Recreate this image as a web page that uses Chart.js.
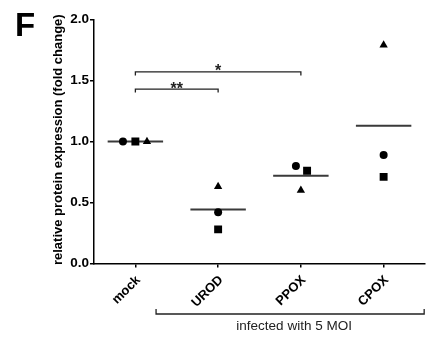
<!DOCTYPE html>
<html>
<head>
<meta charset="utf-8">
<script src="https://cdn.jsdelivr.net/npm/chart.js@4"></script>
<style>
html,body{margin:0;padding:0;background:#fff;}
#wrap{position:relative;width:431px;height:337px;}
</style>
</head>
<body>
<div id="wrap"><canvas id="c" width="431" height="337"></canvas></div>
<script>
// ---- data ----
const categories = ['mock', 'UROD', 'PPOX', 'CPOX'];
const circleVals = [1.00, 0.42, 0.80, 0.89];
const squareVals = [1.00, 0.28, 0.76, 0.71];
const triangleVals = [1.00, 0.63, 0.60, 1.79];
// horizontal jitter of replicate markers (category units)
const circleJitter = [-0.15, 0, -0.06, 0];
const squareJitter = [0, 0, 0.075, 0];
const triangleJitter = [0.14, 0, 0, 0];
const yTicks = [0, 0.5, 1.0, 1.5, 2.0];
const sigBrackets = [
  {from: 0, to: 1, level: 1.43, label: '**'},
  {from: 0, to: 2, level: 1.57, label: '*'}
];
const groupBracket = {from: 0.25, to: 3.49, label: 'infected with 5 MOI'};
const yTitle = ' relative protein expression (fold change)';
const panelLetter = 'F';

const FONT = "'Liberation Sans', Arial, Helvetica, sans-serif";
const meanHalfWidth = 0.335;

function pts(vals, jit) {
  return vals.map((v, i) => ({x: i + jit[i], y: v}));
}
const means = categories.map((c, i) => (circleVals[i] + squareVals[i] + triangleVals[i]) / 3);
const meanData = [];
means.forEach((m, i) => {
  meanData.push({x: i - meanHalfWidth, y: m});
  meanData.push({x: i + meanHalfWidth, y: m});
  meanData.push({x: i + 0.5, y: null});
});

const extras = {
  id: 'extras',
  afterDraw(chart) {
    const ctx = chart.ctx, xs = chart.scales.x, ys = chart.scales.y, ca = chart.chartArea;
    ctx.save();
    ctx.strokeStyle = '#222';
    ctx.fillStyle = '#222';
    ctx.lineWidth = 1.3;
    ctx.textAlign = 'center';
    ctx.textBaseline = 'alphabetic';
    ctx.font = 'bold 16px ' + FONT;
    sigBrackets.forEach(b => {
      const x1 = xs.getPixelForValue(b.from), x2 = xs.getPixelForValue(b.to), y = ys.getPixelForValue(b.level);
      ctx.beginPath();
      ctx.moveTo(x1, y + 3.5); ctx.lineTo(x1, y); ctx.lineTo(x2, y); ctx.lineTo(x2, y + 3.5);
      ctx.stroke();
      ctx.fillText(b.label, (x1 + x2) / 2, y + 4.5);
    });
    // group bracket under x labels
    const gx1 = xs.getPixelForValue(groupBracket.from), gx2 = xs.getPixelForValue(groupBracket.to);
    const gy = ca.bottom + 50.5;
    ctx.beginPath();
    ctx.moveTo(gx1, gy - 5); ctx.lineTo(gx1, gy); ctx.lineTo(gx2, gy); ctx.lineTo(gx2, gy - 5);
    ctx.stroke();
    ctx.font = '13.5px ' + FONT;
    ctx.fillText(groupBracket.label, (gx1 + gx2) / 2 + 4, gy + 15.5);
    // panel letter
    ctx.fillStyle = '#000';
    ctx.textAlign = 'left';
    ctx.font = 'bold 33px ' + FONT;
    ctx.fillText(panelLetter, 15, 36);
    ctx.restore();
  }
};

new Chart(document.getElementById('c'), {
  type: 'scatter',
  data: {
    datasets: [
      {data: pts(circleVals, circleJitter), pointStyle: 'circle', pointRadius: 4, backgroundColor: '#000', borderColor: '#000', borderWidth: 0},
      {data: pts(squareVals, squareJitter), pointStyle: 'rect', pointRadius: 5.6, backgroundColor: '#000', borderColor: '#000', borderWidth: 0},
      {data: pts(triangleVals, triangleJitter), pointStyle: 'triangle', pointRadius: 4.8, backgroundColor: '#000', borderColor: '#000', borderWidth: 0},
      {data: meanData, showLine: true, spanGaps: false, pointRadius: 0, borderColor: '#3a3a3a', borderWidth: 2}
    ]
  },
  options: {
    responsive: false,
    animation: false,
    events: [],
    layout: {padding: {left: 46.5, top: 19.5, right: 6, bottom: 0}},
    plugins: {legend: {display: false}, tooltip: {enabled: false}},
    scales: {
      x: {
        type: 'linear',
        min: -0.5, max: 3.5,
        afterBuildTicks(s) { s.ticks = categories.map((c, i) => ({value: i})); },
        afterFit(s) { s.height = 73.5; },
        grid: {drawOnChartArea: false, drawTicks: true, tickLength: 4, color: '#000', lineWidth: 1.5},
        border: {display: true, color: '#000', width: 1.5},
        ticks: {
          color: '#000',
          font: {family: FONT, size: 13, weight: 'bold'},
          minRotation: 45, maxRotation: 45, padding: 5, labelOffset: 3,
          callback: (v) => categories[v] !== undefined ? categories[v] : ''
        }
      },
      y: {
        min: 0, max: 2,
        afterBuildTicks(s) { s.ticks = yTicks.map(v => ({value: v})); },
        afterFit(s) { s.width = 94 - 46.5; },
        grid: {drawOnChartArea: false, drawTicks: true, tickLength: 4, color: '#000', lineWidth: 1.5},
        border: {display: true, color: '#000', width: 1.5},
        ticks: {
          color: '#000',
          font: {family: FONT, size: 13.5, weight: 'bold'},
          padding: 1,
          callback: (v) => v.toFixed(1)
        },
        title: {display: true, text: yTitle, color: '#000', font: {family: FONT, size: 13, weight: 'bold'}, padding: {top: 4, bottom: 4}}
      }
    }
  },
  plugins: [extras]
});
</script>
</body>
</html>
